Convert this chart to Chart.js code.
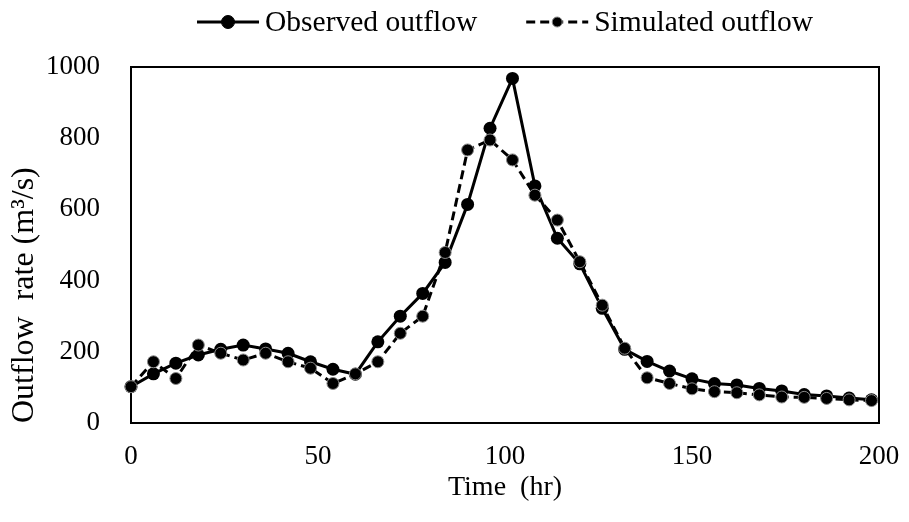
<!DOCTYPE html>
<html>
<head>
<meta charset="utf-8">
<script src="https://cdn.jsdelivr.net/npm/chart.js@4/dist/chart.umd.min.js"></script>
<style>
  html, body { margin: 0; padding: 0; background: #fff; }
  #wrap { width: 909px; height: 522px; }
</style>
</head>
<body>
<div id="wrap"><canvas id="chart"></canvas></div>
<script>
// --- DATI ---
const hours = [0, 6, 12, 18, 24, 30, 36, 42, 48, 54, 60, 66, 72, 78, 84, 90, 96,
  102, 108, 114, 120, 126, 132, 138, 144, 150, 156, 162, 168, 174, 180, 186, 192, 198];

const observed = [102, 138, 168, 191, 207, 219, 208, 196, 172, 151, 137, 228, 300, 364, 451, 614, 828,
  968, 666, 519, 447, 322, 207, 173, 146, 124, 111, 107, 97, 90, 80, 76, 70, 65];

const simulated = [102, 172, 125, 219, 196, 177, 196, 172, 154, 111, 138, 172, 252, 300, 479, 767, 795,
  739, 640, 570, 453, 331, 210, 127, 111, 96, 88, 85, 79, 73, 72, 69, 65, 63];

const seriesNames = ["Observed outflow", "Simulated outflow"];
const xTicks = [0, 50, 100, 150, 200];
const yTicks = [0, 200, 400, 600, 800, 1000];

const serif = "'Liberation Serif', 'Times New Roman', serif";

function toPoints(values) {
  return hours.map((h, i) => ({ x: h, y: values[i] }));
}

// cornice nera attorno all'area del grafico
const frame = {
  id: "frame",
  beforeDatasetsDraw(chart) {
    const { ctx, chartArea: a } = chart;
    ctx.save();
    ctx.strokeStyle = "#000";
    ctx.lineWidth = 2;
    ctx.strokeRect(a.left, a.top, a.right - a.left, a.bottom - a.top);
    ctx.restore();
  }
};

// legenda: linea con marcatore al centro, poi il testo
const lineLegend = {
  id: "lineLegend",
  afterDraw(chart) {
    const ctx = chart.ctx;
    const sets = chart.data.datasets;
    const lineLen = 62, gap = 6, itemGap = 49, y = 22;

    ctx.save();
    ctx.font = "29.5px " + serif;
    const widths = sets.map(d => ctx.measureText(d.label).width);
    const total = widths.reduce((s, w) => s + w + lineLen + gap, 0) + itemGap * (sets.length - 1);
    let x = (chart.chartArea.left + chart.chartArea.right) / 2 - total / 2;

    sets.forEach((d, i) => {
      ctx.strokeStyle = "#000";
      ctx.lineWidth = 3;
      ctx.setLineDash(d.borderDash || []);
      ctx.beginPath();
      ctx.moveTo(x, y);
      ctx.lineTo(x + lineLen, y);
      ctx.stroke();
      ctx.setLineDash([]);

      ctx.beginPath();
      ctx.arc(x + lineLen / 2, y, i === 0 ? 6.5 : 5, 0, Math.PI * 2);
      ctx.fillStyle = "#000";
      ctx.fill();
      if (d.pointBorderColor) {
        ctx.lineWidth = 1;
        ctx.strokeStyle = d.pointBorderColor;
        ctx.stroke();
      }

      ctx.fillStyle = "#000";
      ctx.textBaseline = "middle";
      ctx.textAlign = "left";
      ctx.fillText(d.label, x + lineLen + gap, y + 1);
      x += lineLen + gap + widths[i] + itemGap;
    });
    ctx.restore();
  }
};

new Chart(document.getElementById("chart"), {
  type: "line",
  data: {
    datasets: [
      {
        label: seriesNames[0],
        data: toPoints(observed),
        borderColor: "#000",
        borderWidth: 3,
        pointRadius: 6.5,
        pointBackgroundColor: "#000",
        pointBorderColor: "#000",
        pointBorderWidth: 0,
        tension: 0,
        clip: false,
        order: 1
      },
      {
        label: seriesNames[1],
        data: toPoints(simulated),
        borderColor: "#000",
        borderWidth: 3,
        borderDash: [9, 5],
        pointRadius: 6,
        pointBackgroundColor: "#000",
        pointBorderColor: "#8a8a8a",
        pointBorderWidth: 1,
        tension: 0,
        clip: false,
        order: 0
      }
    ]
  },
  options: {
    responsive: true,
    maintainAspectRatio: false,
    animation: false,
    layout: { padding: { top: 67, right: 30, bottom: 0, left: 0 } },
    plugins: {
      legend: { display: false },
      tooltip: { enabled: false }
    },
    scales: {
      x: {
        type: "linear",
        min: 0,
        max: 200,
        grid: { display: false, drawTicks: false },
        border: { display: false },
        afterBuildTicks: scale => { scale.ticks = xTicks.map(v => ({ value: v })); },
        afterFit: scale => {
          scale.height = 99;
          scale.paddingLeft = 0;
          scale.paddingRight = 0;
        },
        ticks: {
          color: "#000",
          padding: 18,
          maxRotation: 0,
          font: { family: serif, size: 27 },
          callback: v => String(v)
        },
        title: {
          display: true,
          text: "Time  (hr)",
          color: "#000",
          font: { family: serif, size: 28 },
          padding: { top: 0, bottom: 18 }
        }
      },
      y: {
        min: 0,
        max: 1000,
        grid: { display: false, drawTicks: false },
        border: { display: false },
        afterBuildTicks: scale => { scale.ticks = yTicks.map(v => ({ value: v })); },
        afterFit: scale => { scale.width = 131; },
        ticks: {
          color: "#000",
          padding: 31,
          font: { family: serif, size: 27 },
          callback: v => String(v)
        },
        title: {
          display: true,
          text: "Outflow  rate (m³/s)",
          align: "start",
          color: "#000",
          font: { family: serif, size: 32 },
          padding: { top: 5, bottom: 0 }
        }
      }
    }
  },
  plugins: [frame, lineLegend]
});
</script>
</body>
</html>
